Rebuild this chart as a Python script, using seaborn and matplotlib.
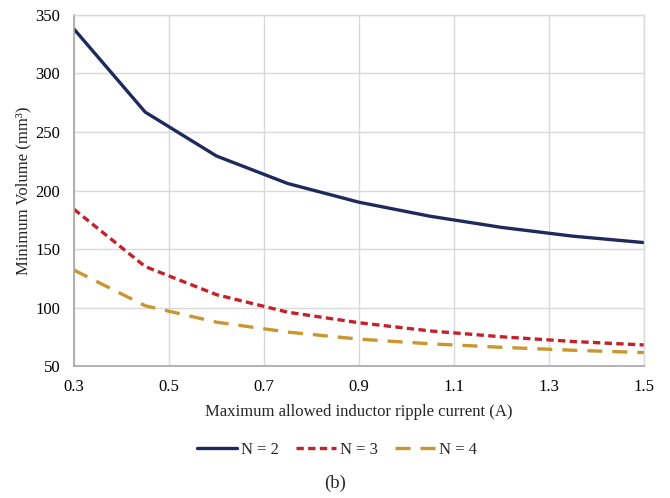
import matplotlib
matplotlib.use("Agg")
import matplotlib.pyplot as plt
import seaborn as sns
import pandas as pd
from matplotlib.lines import Line2D

x_vals = [0.3, 0.45, 0.6, 0.75, 0.9, 1.05, 1.2, 1.35, 1.5]
n2 = [338, 267, 229.5, 206, 190, 178, 168.5, 161, 155.5]
n3 = [184, 135, 111, 96, 87, 80, 75, 71, 68]
n4 = [132, 101.5, 87.5, 79, 73, 69, 66, 63.5, 61.5]
series_names = ["N = 2", "N = 3", "N = 4"]
x_ticks = [0.3, 0.5, 0.7, 0.9, 1.1, 1.3, 1.5]
y_ticks = [50, 100, 150, 200, 250, 300, 350]

rows = []
for name, ys in zip(series_names, [n2, n3, n4]):
    for xv, yv in zip(x_vals, ys):
        rows.append({"x": xv, "y": yv, "series": name})
df = pd.DataFrame(rows)

sns.set_theme(style="whitegrid")
plt.rcParams["font.family"] = ["Liberation Serif", "DejaVu Serif"]

colors = {"N = 2": "#1f2a5c", "N = 3": "#c4212b", "N = 4": "#c9962f"}
dashes = {"N = 2": "", "N = 3": (2.2, 1.3), "N = 4": (4.5, 3.0)}

fig = plt.figure(figsize=(6.7, 4.98), dpi=100)
ax = fig.add_axes([0.1104, 0.265, 0.8506, 0.7049])
sns.lineplot(data=df, x="x", y="y", hue="series", style="series",
             palette=colors, dashes=dashes, linewidth=2.4, ax=ax, legend=False)

ax.set_xlim(0.3, 1.5)
ax.set_ylim(50, 350)
ax.set_xticks(x_ticks)
ax.set_xticklabels([f"{t:.1f}" for t in x_ticks])
ax.set_yticks(y_ticks)
ax.set_yticklabels([str(t) for t in y_ticks])
ax.tick_params(axis="x", labelsize=12, colors="black", length=0, pad=9)
ax.tick_params(axis="y", labelsize=12, colors="black", length=0, pad=10)
ax.grid(True, color="#d9d9d9", linewidth=1.0)
for s in ["top", "right"]:
    ax.spines[s].set_color("#d9d9d9")
    ax.spines[s].set_linewidth(1.0)
for s in ["left", "bottom"]:
    ax.spines[s].set_color("#a6a6a6")
    ax.spines[s].set_linewidth(1.2)

ax.set_xlabel("Maximum allowed inductor ripple current (A)", fontsize=12, labelpad=7)
ax.set_ylabel("Minimum Volume (mm³)", fontsize=12, labelpad=3)

handles = [Line2D([0], [0], color=colors[n], lw=2.4,
                  linestyle="-" if n == "N = 2" else (0, dashes[n])) for n in series_names]
fig.legend(handles, series_names, loc="center", bbox_to_anchor=(0.503, 0.097), ncol=3,
           frameon=False, fontsize=12, handlelength=2.4, columnspacing=1.0, handletextpad=0.25)

fig.text(0.5, 0.03, "(b)", ha="center", va="center", fontsize=13.5)

fig.savefig("out.png", dpi=100)
